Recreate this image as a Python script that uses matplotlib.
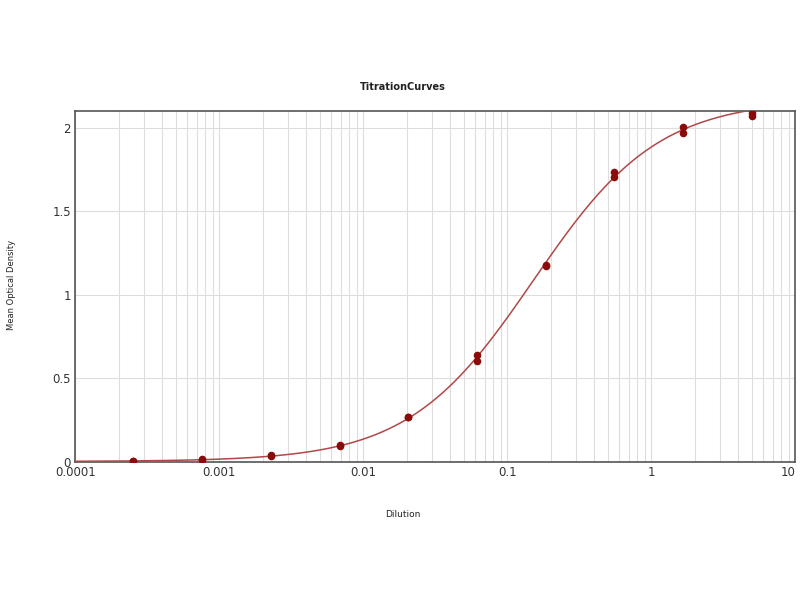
import numpy as np
import matplotlib
matplotlib.use('Agg')
import matplotlib.pyplot as plt
from matplotlib.ticker import LogLocator, FixedLocator, NullFormatter

# Diluições (série 1:3) e densidades ópticas das duas réplicas
diluicao = [0.000254, 0.000762, 0.00229, 0.00686, 0.0206, 0.0617, 0.185, 0.556, 1.667, 5.0]
rep1 = [0.006, 0.016, 0.041, 0.102, 0.272, 0.640, 1.180, 1.735, 2.005, 2.090]
rep2 = [0.004, 0.012, 0.037, 0.098, 0.268, 0.605, 1.170, 1.705, 1.970, 2.070]

# Parâmetros do ajuste 4PL (bottom, top, EC50, hill)
bottom, top, ec50, hill = 0.003, 2.17, 0.152, 1.0

xticks = [0.0001, 0.001, 0.01, 0.1, 1, 10]
xtick_labels = ['0.0001', '0.001', '0.01', '0.1', '1', '10']
yticks = [0, 0.5, 1, 1.5, 2]
ytick_labels = ['0', '0.5', '1', '1.5', '2']

fig = plt.figure(figsize=(8, 6), dpi=100)
ax = fig.add_axes([0.094, 0.23, 0.9, 0.585])

# Curva ajustada
xs = np.logspace(-4, 1, 400)
ys = top + (bottom - top) / (1 + (xs / ec50) ** hill)
ax.plot(xs, ys, color='#b04848', linewidth=1.1, zorder=3)

# Pontos
ax.scatter(diluicao, rep1, s=30, color='#8b0a0a', zorder=4, linewidths=0)
ax.scatter(diluicao, rep2, s=30, color='#8b0a0a', zorder=4, linewidths=0)

ax.set_xscale('log')
ax.set_xlim(0.0001, 10)
ax.set_ylim(0, 2.1)
ax.xaxis.set_major_locator(FixedLocator(xticks))
ax.set_xticklabels(xtick_labels)
ax.xaxis.set_minor_locator(LogLocator(base=10, subs=np.arange(2, 10)))
ax.xaxis.set_minor_formatter(NullFormatter())
ax.set_yticks(yticks)
ax.set_yticklabels(ytick_labels)
# o "10" fica encostado na borda direita
ax.get_xticklabels()[-1].set_horizontalalignment('right')

ax.grid(True, which='both', axis='x', color='#dddddd', linewidth=0.8)
ax.grid(True, which='major', axis='y', color='#dddddd', linewidth=0.8)
ax.set_axisbelow(True)
ax.tick_params(which='both', length=0, labelsize=8.5, colors='#333333', pad=3)

for s in ax.spines.values():
    s.set_color('#555555')
    s.set_linewidth(1.2)

fig.text(0.504, 0.855, 'TitrationCurves', fontsize=7, fontweight='bold', ha='center', va='center', color='#222222')
fig.text(0.504, 0.142, 'Dilution', fontsize=6.5, ha='center', va='center', color='#222222')
fig.text(0.015, 0.525, 'Mean Optical Density', rotation=90, fontsize=6, va='center', ha='center', color='#222222')

fig.savefig('out.png', dpi=100, facecolor='white')
